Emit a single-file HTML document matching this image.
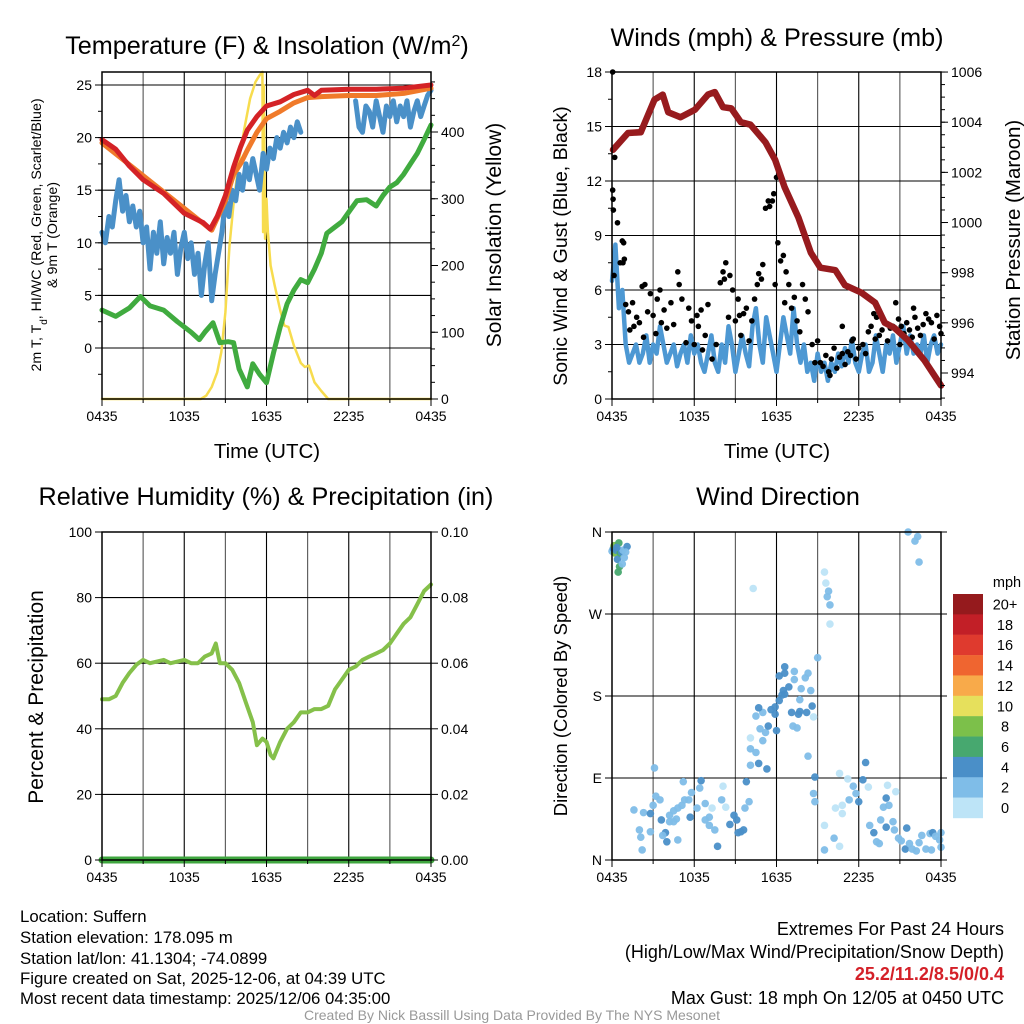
<!DOCTYPE html>
<html><head><meta charset="utf-8">
<style>
html,body{margin:0;padding:0;background:#fff;}
svg{display:block;font-family:"Liberation Sans",Arial,sans-serif;}
</style></head>
<body>
<svg id="chart" width="1024" height="1024" viewBox="0 0 1024 1024" xmlns="http://www.w3.org/2000/svg">
<rect x="0" y="0" width="1024" height="1024" fill="#fff"/>
<!-- titles -->
<text x="267" y="54" font-size="25.2" text-anchor="middle">Temperature (F) &amp; Insolation (W/m<tspan baseline-shift="super" font-size="16">2</tspan>)</text>
<text x="777" y="46" font-size="25.2" text-anchor="middle">Winds (mph) &amp; Pressure (mb)</text>
<text x="266" y="505" font-size="25.2" text-anchor="middle">Relative Humidity (%) &amp; Precipitation (in)</text>
<text x="778" y="505" font-size="25.2" text-anchor="middle">Wind Direction</text>
<!-- x axis titles -->
<text x="267" y="458" font-size="20.5" text-anchor="middle">Time (UTC)</text>
<text x="777" y="458" font-size="20.5" text-anchor="middle">Time (UTC)</text>
<!-- y axis titles -->
<text transform="translate(41,235) rotate(-90)" font-size="14.2" text-anchor="middle">2m T, T<tspan baseline-shift="sub" font-size="10">d</tspan>, HI/WC (Red, Green, Scarlet/Blue)</text>
<text transform="translate(57,235) rotate(-90)" font-size="14.2" text-anchor="middle">&amp; 9m T (Orange)</text>
<text transform="translate(501,235) rotate(-90)" font-size="21" text-anchor="middle">Solar Insolation (Yellow)</text>
<text transform="translate(567,246) rotate(-90)" font-size="19.5" text-anchor="middle">Sonic Wind &amp; Gust (Blue, Black)</text>
<text transform="translate(1020,240) rotate(-90)" font-size="20.5" text-anchor="middle">Station Pressure (Maroon)</text>
<text transform="translate(43,697) rotate(-90)" font-size="21" text-anchor="middle">Percent &amp; Precipitation</text>
<text transform="translate(567,696) rotate(-90)" font-size="18.5" text-anchor="middle">Direction (Colored By Speed)</text>
<!-- info text -->
<g font-size="16.8">
<text x="20" y="922">Location: Suffern</text>
<text x="20" y="943">Station elevation: 178.095 m</text>
<text x="20" y="964">Station lat/lon: 41.1304; -74.0899</text>
<text x="20" y="984">Figure created on Sat, 2025-12-06, at 04:39 UTC</text>
<text x="20" y="1004">Most recent data timestamp: 2025/12/06 04:35:00</text>
</g>
<g font-size="18" text-anchor="end">
<text x="1004" y="935">Extremes For Past 24 Hours</text>
<text x="1004" y="958">(High/Low/Max Wind/Precipitation/Snow Depth)</text>
<text x="1004" y="980" fill="#d42028" font-weight="bold">25.2/11.2/8.5/0/0.4</text>
<text x="1004" y="1004">Max Gust: 18 mph On 12/05 at 0450 UTC</text>
</g>
<text x="512" y="1020" font-size="14" fill="#999" text-anchor="middle">Created By Nick Bassill Using Data Provided By The NYS Mesonet</text>
</svg>
<script>
// ---------- DATA ----------
const xTickLabels = ["0435","1035","1635","2235","0435"];
const tempTicks = [0,5,10,15,20,25];
const solarTicks = [0,100,200,300,400];
const windTicks = [0,3,6,9,12,15,18];
const pressTicks = [994,996,998,1000,1002,1004,1006];
const rhTicks = [0,20,40,60,80,100];
const precipTicks = ["0.00","0.02","0.04","0.06","0.08","0.10"];
const dirTickLabels = ["N","E","S","W","N"];
const speedLabels = ["20+","18","16","14","12","10","8","6","4","2","0"];
const speedColors = ["#951a1d","#c21f27","#df3a2e","#ef6530","#f8aa4a","#e6e05c","#7cc04a","#47a86f","#4a8fc8","#7fbde8","#bde4f7"];

const redHours = [0,1,2,3,4.5,6,7.4,7.9,8.4,9,9.6,10.1,10.6,11.3,12,13,14,15,15.5,16,18,20,22,24];
const redVals  = [19.8,18.9,17.3,16.0,14.7,12.8,11.9,11.3,12.5,14.5,17.2,19.1,20.7,22,23,23.4,24.1,24.5,24.0,24.5,24.6,24.6,24.7,25];
const orangeHours = [0,8,9,9.6,10.1,10.6,11.3,12,13,14,15,16,18,20,22,24];
const orangeVals  = [19.5,11.2,14.0,16.5,17.5,18.8,20.5,21.8,22.5,23.3,23.8,23.9,24.0,24.0,24.2,24.7];
const blueAStart = 0;
const blueAVals = [11,10,12.5,11.5,14,16,13,14.5,12,13.5,11.5,13,10,11.5,7.5,11,9,12,8,10.5,9,11,7,9.5,11,8.5,10,7,9,5,8,10,4.5,7,9,11,14,12.5,15,14,16.5,15,17.5,16,18,16.5,15,18.5,17,19,18,20,19,20.5,19.5,21,20,21.5,20.5];
const blueBStart = 18.5;
const blueBVals = [23.5,21,20.5,23,22.5,21,23.5,22,20.5,23,22,23.5,21.5,23,22,23.5,21,22.5,23.5,22,23,24,24.5];
const greenHours = [0,1,2,2.8,3.5,4.5,5.5,6.5,7.1,7.5,8.1,8.6,9.2,9.6,10,10.6,11,11.5,12,12.5,13,13.5,14,14.5,15,15.5,16,16.4,17,17.5,18.1,18.6,19.3,20,20.5,21,21.5,22,22.5,23,23.5,24];
const greenVals  = [3.6,3.0,3.8,4.9,4,3.6,2.5,1.5,0.8,1.5,2.4,0.5,0.6,0.5,-2,-3.7,-1.5,-2.5,-3.3,-0.5,2,4.2,5.5,6.5,6.2,7.5,9,10.9,11.5,12,13.1,14,14.1,13.5,14.5,15.3,15.7,16.5,17.5,18.5,19.8,21.2];
const solarHours = [0,7.2,7.6,8,8.4,8.7,9.0,9.3,9.6,10,10.4,10.8,11.2,11.5,11.7,11.75,11.8,11.9,12.0,12.1,12.3,12.6,13,13.3,13.6,14,14.5,14.8,15.1,15.5,16,16.5,24];
const solarVals  = [0,0,5,18,40,70,130,230,293,360,407,450,475,485,490,250,470,240,300,250,200,170,133,110,108,80,54,48,50,25,12,0,0];

const pressHours = [0.07,1.17,2.1,3.1,3.7,4.1,5.0,6.05,7.0,7.5,8.1,8.7,9.4,10.1,11.2,11.9,12.6,13.6,14.5,15.2,16.3,17,18.2,19.2,19.9,20.6,21.6,22.8,24];
const pressVals  = [1002.9,1003.57,1003.6,1004.9,1005.1,1004.4,1004.2,1004.5,1005.1,1005.2,1004.6,1004.55,1004,1003.9,1003.2,1002.5,1001.4,1000.2,998.8,998.2,998.1,997.5,997.2,996.8,996.0,995.8,995.3,994.5,993.5];
const windStep = 0.25;
const windVals = [6.5,8.5,5,6,3,2,2.5,3,2, 2.5,3.5,2,3,2.5,4,3,2, 2.5,3,1.8,2.5,3,2,3.5,2.5, 3,2,1.5,2.5,3.5,2,1.5,3, 2,4,3,1.5,2.5,3.5,2.5,1.8, 4,5,3,2,4.5,3.5,2.5,1.5, 3,4.5,3.5,2.5,5,3,2,3, 1.5,2,1,2.5,1.5,2,1,2, 1.5,2.5,1.8,2.8,2,3.3,2,1.5, 2.5,3,1.5,2,3.5,2.5,1.5,3, 2.5,3.5,2,3,4,2.5,3.5,2.5, 3,2.5,3.5,2,3,3.5,2.5,3];
const gustHours = [0.05,0.2,0.05,0.1,0.08,0.4,0.75,0.85,0.8,0.9,0.6,0.15,1.0,1.2,1.5,1.3,1.8,2.2,2.4,2.0,2.6,2.8,3.0,3.3,3.5,3.2,3.8,4.0,4.3,4.5,4.8,4.9,5.1,5.4,5.6,5.8,6.0,6.2,6.5,6.6,6.8,7.0,7.3,7.6,7.9,8.1,8.2,8.3,8.5,8.6,8.8,9.0,9.2,9.4,9.6,9.8,10.0,10.2,10.4,10.6,10.7,10.9,11.0,11.2,11.4,11.5,11.7,11.8,12.0,11.9,12.1,12.3,12.5,12.7,12.9,13.1,13.3,13.5,13.7,13.9,14.1,14.3,14.6,14.8,15.0,15.2,15.4,15.6,15.8,16.0,16.2,16.4,16.6,16.8,17.0,17.2,17.4,17.6,17.8,18.0,18.3,18.5,18.7,18.9,19.1,19.3,19.5,19.7,19.9,20.1,20.3,20.5,20.7,20.9,21.1,21.3,21.5,21.7,21.9,22.1,22.3,22.5,22.7,22.9,23.1,23.3,23.5,23.7,23.9,24.0,16.8,17.5,15.9,19.2,21.0,22.0,6.3,3.6,2.3,1.6,9.3,12.6];
const gustVals  = [18,13.3,11.5,10.4,11,9.7,8.7,8.6,7.5,7.7,7.5,6.8,5.2,4.8,5.3,3.8,4.5,6.2,6.3,4.2,4.8,5.8,4.6,5.5,6.0,3.6,4.9,3.9,5.3,4.1,7.0,6.3,5.5,3.1,5.0,4.3,3.0,4.6,4.9,2.7,3.5,5.2,2.2,3.0,6.4,7.0,6.6,7.5,4.5,6.8,6.0,4.3,5.5,3.5,4.7,5.0,3.2,4.3,5.5,6.3,6.9,6.6,7.4,10.5,10.9,10.6,10.9,11.3,12.2,6.3,8.6,7.6,7.9,7.0,6.3,5.0,5.6,4.3,3.7,6.3,5.5,4.8,3.0,2.0,3.2,2.0,1.8,2.4,1.5,2.2,2.8,1.7,2.3,2.5,1.9,2.6,2.4,3.3,2.2,2.8,3.0,2.5,3.7,4.0,4.7,4.5,3.5,3.8,4.2,3.2,3.9,4.0,5.3,4.4,4.0,3.6,4.2,3.8,3.4,4.5,3.9,3.5,4.1,4.7,4.4,4.2,3.3,4.6,4.0,3.6,4.0,3.2,1.3,3.3,3.0,5.0,4.0,4.2,3.4,4.0,4.6,5.3];

const rhHours = [0,0.5,1,1.5,2,2.5,3,3.5,4,4.5,5,5.5,6,6.5,7,7.5,8,8.3,8.6,9,9.5,10,10.5,11,11.3,11.7,12,12.3,12.5,13,13.5,14,14.5,15,15.5,16,16.5,17,17.5,18,18.5,19,19.5,20,20.5,21,21.5,22,22.5,23,23.5,24];
const rhVals  = [49,49,50,54,57,59.5,61,60,60.5,61,60,60.5,61,60,60,62,63,66,60,60,58,54,48,42,35,37,36,32,31,36,40,42,45,45,46,46,47,52,55,58,59,61,62,63,64,66,69,72,74,78,82,84];
const precipHours = [0,24];
const precipVals = [0,0];

const dirHours = [0,0.1,0.15,0.2,0.3,0.4,0.5,0.6,0.55,0.45,0.7,0.8,0.9,0.75,1.1,1.0,0.35,10.3,15.5,15.6,15.7,15.8,15.9,15.9,21.6,22.3,22.1,22.4,10.1,10.7,11.3,10.1,10.5,11,10.1,11.2,10.8,11.4,12.0,10.5,11,10.7,11.6,11.9,12.2,11.9,12.4,12.5,12.9,12.6,13.1,13.6,13.7,14.2,13.2,13.5,13.8,14.5,13.7,14.6,14.7,14.1,14.3,13.3,12.2,12.6,12.6,13.3,15,14.3,3.1,1.6,2.3,2.8,3.0,3.2,3.5,3.6,3.9,4.0,3.7,2,2.1,2.2,2.8,4.2,4.5,4.8,5.1,5.3,5.6,5.8,5.2,5.7,6.2,6.5,6.4,6.8,7.1,7.3,7.5,7.7,8,8.1,8.3,8.6,8.9,9.1,9.4,9.6,9.7,10,9.8,9.2,4.2,4.5,6.8,7.1,4.8,4.7,14.8,14.7,14.8,15.5,15.5,16.2,16.6,16.3,16.8,16.8,17.3,16.6,17.2,17.6,17.8,18,18.3,18.5,18.7,18.8,19.1,19.3,19.5,19.6,19.8,20,20.1,20.7,20.2,20.5,20.6,20.9,21.1,21.5,21.4,21.7,21.9,22.4,22.6,22.9,23.2,23.4,23.6,23.9,24,24,23.3,22.2,20];
const dirDegs  = [339,342,345,337,340,330,348,337,322,316,338,340,332,325,344,338,343,298,316,304,289,295,259,280,360,355,350,327,104,106,100,122,118,131,134,140,144,147,142,158,162,167,165,168,175,160,181,186,190,182,162,160,163,162,147,145,188,186,176,169,157,200,205,198,202,212,205,207,222,114,101,55,52,51,60,70,66,44,30,20,27,33,25,11,31,49,54,57,60,66,66,74,86,47,57,87,79,62,47,57,33,15,66,81,58,39,49,44,31,33,57,64,86,30,42,42,44,38,22,45,91,73,64,38,11,24,15,57,51,60,66,95,89,81,73,64,88,107,80,38,30,20,18,44,58,68,82,75,60,42,33,24,21,35,12,18,12,19,27,12,29,30,26,22,30,14,11,10,36];
const dirSpeeds = [2,4,8,8,4,4,6,6,6,6,4,2,2,2,4,2,4,0,0,0,2,2,0,2,2,2,2,2,2,4,4,2,2,2,0,2,2,4,4,2,2,4,4,4,4,4,4,4,4,4,4,4,4,4,2,2,2,2,2,4,0,2,2,2,4,4,4,2,2,2,2,2,2,4,2,2,2,4,4,4,2,2,2,2,2,2,2,2,2,2,2,2,2,4,2,4,2,2,2,0,2,4,2,0,0,4,4,4,4,4,2,2,4,4,2,2,2,2,2,2,4,2,2,0,2,2,0,0,0,0,2,0,0,2,2,4,4,4,0,2,4,2,2,2,2,4,0,0,2,2,2,2,2,4,4,2,2,2,2,2,2,4,2,2,2,2,2,2,4];

// ---------- HELPERS ----------
const NS = "http://www.w3.org/2000/svg";
const svg = document.getElementById("chart");
function mk(tag, attrs, parent){ const e=document.createElementNS(NS,tag); for(const k in attrs) e.setAttribute(k,attrs[k]); (parent||svg).appendChild(e); return e; }
const PW = 329, HR = PW/24;
const P1 = {x:102,y:72,w:329,h:327}, P2={x:612,y:72,w:329,h:327}, P3={x:102,y:532,w:329,h:328}, P4={x:612,y:532,w:329,h:328};
const x1 = h => P1.x + h*HR, x2 = h => P2.x + h*HR, x3 = h => P3.x + h*HR, x4 = h => P4.x + h*HR;
const yT = v => 348 - v*10.52;
const yS = v => 399 - v*0.6675;
const yW = v => 399 - v*(327/18);
const yP = p => 373 - (p-994)*25.08;
const yRH = v => 860 - v*3.28;
const yPr = v => 860 - v*3280;
const yD = d => 860 - d*(328/360);

function frame(P, hLines, name){
  const g = mk("g",{});
  
  
  for(let i=1;i<8;i++){ const x=P.x+i*3*HR; mk("line",{x1:x,x2:x,y1:P.y,y2:P.y+P.h,stroke:(i%2?"#555":"#000"),"stroke-width":1.1},g); }
  hLines.forEach(y=>mk("line",{x1:P.x,x2:P.x+P.w,y1:y,y2:y,stroke:"#000","stroke-width":1.1},g));
  return g;
}
function border(P,name){
  const r = mk("rect",{x:P.x,y:P.y,width:P.w,height:P.h,fill:"none",stroke:"#000","stroke-width":1.5});
  
  
  const g = mk("g",{"font-size":14,"text-anchor":"middle"});
  
  
  for(let i=0;i<=8;i++){ const x=P.x+i*3*HR; mk("line",{x1:x,x2:x,y1:P.y+P.h,y2:P.y+P.h+(i%2?4:7),stroke:"#000"},g); }
  xTickLabels.forEach((t,i)=>{ const tx=mk("text",{x:P.x+i*6*HR,y:P.y+P.h+22},g); tx.textContent=t; });
}
function yAxis(P, vals, fy, side, labels, name, minorStep, minorFrom, minorTo){
  const g = mk("g",{"font-size":14,"text-anchor": side==="left"?"end":"start"});
  
  
  const ax = side==="left"?P.x:P.x+P.w, d = side==="left"?-1:1;
  vals.forEach((v,i)=>{ const y=fy(v); mk("line",{x1:ax,x2:ax+d*7,y1:y,y2:y,stroke:"#000"},g);
    const t=mk("text",{x:ax+d*10,y:y+5},g); t.textContent = labels?labels[i]:v; });
  if(minorStep){ for(let v=minorFrom; v<=minorTo+1e-9; v+=minorStep){ const y=fy(v); if(y<P.y-0.5||y>P.y+P.h+0.5) continue; mk("line",{x1:ax,x2:ax+d*4,y1:y,y2:y,stroke:"#000"},g);} }
}
function path(xs, ys, fx, fy, color, w, name){
  let d=""; let pen=false;
  for(let i=0;i<xs.length;i++){ if(ys[i]===null){pen=false;continue;} d+=(pen?"L":"M")+fx(xs[i]).toFixed(1)+","+fy(ys[i]).toFixed(1); pen=true; }
  const p = mk("path",{d:d,fill:"none",stroke:color,"stroke-width":w,"stroke-linejoin":"round","stroke-linecap":"round"});
  
  
  return p;
}

// ---------- PANEL 1 ----------
frame(P1, tempTicks.map(yT), "temperature");
path(solarHours, solarVals, x1, yS, "#f7dc4e", 2.5, "solar-insolation-line");
path(greenHours, greenVals, x1, yT, "#40ab3f", 5, "dewpoint-line");
const bAh = blueAVals.map((v,i)=>blueAStart+i*0.25);
path(bAh, blueAVals, x1, yT, "#4a90c8", 5, "windchill-line-early");
const bBh = blueBVals.map((v,i)=>blueBStart+i*0.25);
path(bBh, blueBVals, x1, yT, "#4a90c8", 5, "windchill-line-late");
path(orangeHours, orangeVals, x1, yT, "#f07a2a", 5, "temp-9m-line");
path(redHours, redVals, x1, yT, "#d42226", 5, "temp-2m-line");
border(P1,"temperature");
yAxis(P1, tempTicks, yT, "left", null, "temperature-y-axis", 2.5, -2.5, 25);
yAxis(P1, solarTicks, yS, "right", null, "solar-y-axis", 25, 0, 475);

// ---------- PANEL 2 ----------
frame(P2, [3,6,9,12,15].map(yW), "winds");
const wH = windVals.map((v,i)=>i*windStep);
path(wH, windVals, x2, yW, "#4d98d3", 4.5, "sonic-wind-line");
const gg = mk("g",{fill:"#000"});


gustHours.forEach((h,i)=>{
  const c = mk("circle",{cx:x2(h),cy:yW(gustVals[i]),r:2.8},gg);
  
  
});
path(pressHours, pressVals, x2, yP, "#971b1e", 6.5, "station-pressure-line");
border(P2,"winds");
yAxis(P2, windTicks, yW, "left", null, "wind-y-axis", 1.5, 0, 18);
yAxis(P2, pressTicks, yP, "right", null, "pressure-y-axis", 0.5, 993, 1006.5);

// ---------- PANEL 3 ----------
frame(P3, [20,40,60,80].map(yRH), "humidity");
path(rhHours, rhVals, x3, yRH, "#85c04a", 4, "relative-humidity-line");
path(precipHours, precipVals, x3, yPr, "#3fa63f", 7, "precipitation-line");
border(P3,"humidity");
yAxis(P3, rhTicks, yRH, "left", null, "rh-y-axis");
yAxis(P3, [0,0.02,0.04,0.06,0.08,0.1], yPr, "right", precipTicks, "precip-y-axis");

// ---------- PANEL 4 ----------
frame(P4, [90,180,270].map(yD), "direction");
const dg = mk("g",{});


dirHours.forEach((h,i)=>{
  const bin = Math.min(10, Math.floor(dirSpeeds[i]/2));
  const c = mk("circle",{cx:x4(h),cy:yD(dirDegs[i]),r:3.8,fill:speedColors[10-bin],"fill-opacity":0.95},dg);
  
  
});
border(P4,"direction");
yAxis(P4, [0,90,180,270,360], yD, "left", dirTickLabels, "direction-y-axis");
[0,90,180,270,360].forEach(d=>{ mk("line",{x1:P4.x+P4.w,x2:P4.x+P4.w+6,y1:yD(d),y2:yD(d),stroke:"#000"}); });

// ---------- COLORBAR ----------
const cb = mk("g",{"font-size":14.5,"text-anchor":"middle"});


const mt = mk("text",{x:1007,y:587},cb); mt.textContent="mph";
speedLabels.forEach((lab,i)=>{
  const y = 594 + i*20.36;
  const r = mk("rect",{x:953,y:y,width:30,height:20.6,fill:speedColors[i]},cb);
  
  
  const t = mk("text",{x:1005,y:y+15.5},cb); t.textContent = lab;
});
</script>
</body></html>
